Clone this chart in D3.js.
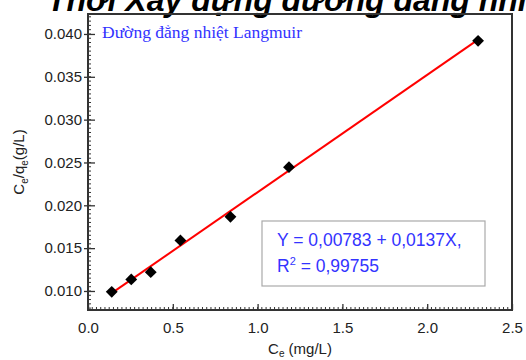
<!DOCTYPE html>
<html>
<head>
<meta charset="utf-8">
<script src="https://cdn.jsdelivr.net/npm/d3@7"></script>
<style>
  body { margin: 0; background: #fff; }
  svg { display: block; }
</style>
</head>
<body>
<div id="chart"></div>
<script>
// measured points (Ce, Ce/qe)
const ce = [0.14, 0.255, 0.37, 0.545, 0.84, 1.185, 2.30];
const ceQe = [0.0099, 0.01135, 0.0122, 0.0159, 0.01865, 0.02445, 0.0392];
// linear fit shown in the box
const intercept = 0.00783;
const slope = 0.0137;
const xTicks = [0, 0.5, 1.0, 1.5, 2.0, 2.5];
const yTicks = [0.010, 0.015, 0.020, 0.025, 0.030, 0.035, 0.040];

const width = 526;
const height = 360;
const margin = {top: 14, right: 14, bottom: 50, left: 88};

const svg = d3.select('#chart')
    .append('svg')
    .attr('width', width)
    .attr('height', height);

const x = d3.scaleLinear()
    .domain([0, 2.5])
    .range([margin.left, width - margin.right]);

const y = d3.scaleLinear()
    .domain([0.00778, 0.04233])
    .range([height - margin.bottom, margin.top]);

// heading of the page, cut off at the top like in the screenshot
svg.append('text')
    .attr('x', 47)
    .attr('y', 11)
    .attr('font-family', 'Liberation Sans, Arial, sans-serif')
    .attr('font-size', 32)
    .attr('font-weight', 'bold')
    .attr('font-style', 'italic')
    .attr('fill', '#000')
    .text('Thời Xây dựng đường đẳng nhiệt Langmuir');

// minor ticks
const xMinor = d3.range(0, 2.5001, 0.025);
const yMinor = d3.range(0.008, 0.0423, 0.0005);

svg.append('g')
    .attr('stroke', '#333')
    .attr('stroke-width', 1)
    .selectAll('line')
    .data(xMinor)
    .join('line')
        .attr('x1', d => x(d))
        .attr('x2', d => x(d))
        .attr('y1', y.range()[0])
        .attr('y2', y.range()[0] - 3);

svg.append('g')
    .attr('stroke', '#333')
    .attr('stroke-width', 1)
    .selectAll('line')
    .data(yMinor)
    .join('line')
        .attr('x1', margin.left)
        .attr('x2', margin.left + 3)
        .attr('y1', d => y(d))
        .attr('y2', d => y(d));

function xAxis(g) {
    g.attr('transform', `translate(0, ${height - margin.bottom})`)
        .call(d3.axisBottom(x).tickValues(xTicks).tickFormat(d3.format('.1f'))
            .tickSizeInner(-6).tickSizeOuter(0).tickPadding(12))
        .attr('font-size', 15)
        .attr('font-family', 'Liberation Sans, Arial, sans-serif');
    g.select('.domain').remove();
    g.selectAll('.tick line').attr('stroke', '#333').attr('stroke-width', 1.3);
    g.selectAll('.tick text').attr('fill', '#222');
}

function yAxis(g) {
    g.attr('transform', `translate(${margin.left}, 0)`)
        .call(d3.axisLeft(y).tickValues(yTicks).tickFormat(d3.format('.3f'))
            .tickSizeInner(4).tickSizeOuter(0).tickPadding(2))
        .attr('font-size', 15)
        .attr('font-family', 'Liberation Sans, Arial, sans-serif');
    g.select('.domain').remove();
    g.selectAll('.tick line').attr('stroke', '#333').attr('stroke-width', 1.3)
        .attr('x2', 7).attr('x1', -4);
    g.selectAll('.tick text').attr('fill', '#222');
}

svg.append('g').call(xAxis);
svg.append('g').call(yAxis);

// frame
svg.append('rect')
    .attr('x', margin.left)
    .attr('y', margin.top)
    .attr('width', width - margin.left - margin.right)
    .attr('height', height - margin.top - margin.bottom)
    .attr('fill', 'none')
    .attr('stroke', '#333')
    .attr('stroke-width', 2);

// fit line
const fitX = d3.extent(ce);
svg.append('line')
    .attr('x1', x(fitX[0]))
    .attr('y1', y(intercept + slope * fitX[0]))
    .attr('x2', x(fitX[1]))
    .attr('y2', y(intercept + slope * fitX[1]))
    .attr('stroke', '#ff0000')
    .attr('stroke-width', 2);

// diamonds
svg.append('g')
    .selectAll('path')
    .data(ce)
    .join('path')
        .attr('d', d3.symbol(d3.symbolSquare, 70))
        .attr('transform', (d, i) => `translate(${x(d)}, ${y(ceQe[i])}) rotate(45)`)
        .attr('fill', '#000');

// legend title
svg.append('text')
    .attr('x', 102)
    .attr('y', 38)
    .attr('font-family', 'Liberation Serif, Times New Roman, serif')
    .attr('font-size', 17.5)
    .attr('fill', '#3333ff')
    .text('Đường đẳng nhiệt Langmuir');

// equation box
svg.append('rect')
    .attr('x', 262)
    .attr('y', 221)
    .attr('width', 223)
    .attr('height', 65)
    .attr('fill', '#fff')
    .attr('stroke', '#aaa')
    .attr('stroke-width', 1.2);

const eq = svg.append('g')
    .attr('font-family', 'Liberation Sans, Arial, sans-serif')
    .attr('font-size', 17.5)
    .attr('fill', '#3333ff');

eq.append('text')
    .attr('x', 277)
    .attr('y', 246)
    .text('Y = 0,00783 + 0,0137X,');

const r2 = eq.append('text')
    .attr('x', 277)
    .attr('y', 272);
r2.append('tspan').text('R');
r2.append('tspan').attr('font-size', 11).attr('dy', -7).text('2');
r2.append('tspan').attr('dy', 7).text(' = 0,99755');

// axis labels
const labelFont = 'Liberation Sans, Arial, sans-serif';
const xl = svg.append('text')
    .attr('x', x(1.25))
    .attr('y', 354)
    .attr('text-anchor', 'middle')
    .attr('font-family', labelFont)
    .attr('font-size', 15)
    .attr('fill', '#222');
xl.append('tspan').text('C');
xl.append('tspan').attr('font-size', 10).attr('dy', 3).text('e');
xl.append('tspan').attr('dy', -3).text(' (mg/L)');

const yl = svg.append('text')
    .attr('transform', `translate(24, ${(margin.top + height - margin.bottom) / 2}) rotate(-90)`)
    .attr('text-anchor', 'middle')
    .attr('font-family', labelFont)
    .attr('font-size', 15)
    .attr('fill', '#222');
yl.append('tspan').text('C');
yl.append('tspan').attr('font-size', 10).attr('dy', 4).text('e');
yl.append('tspan').attr('dy', -4).text('/q');
yl.append('tspan').attr('font-size', 10).attr('dy', 4).text('e');
yl.append('tspan').attr('dy', -4).text('(g/L)');
</script>
</body>
</html>
